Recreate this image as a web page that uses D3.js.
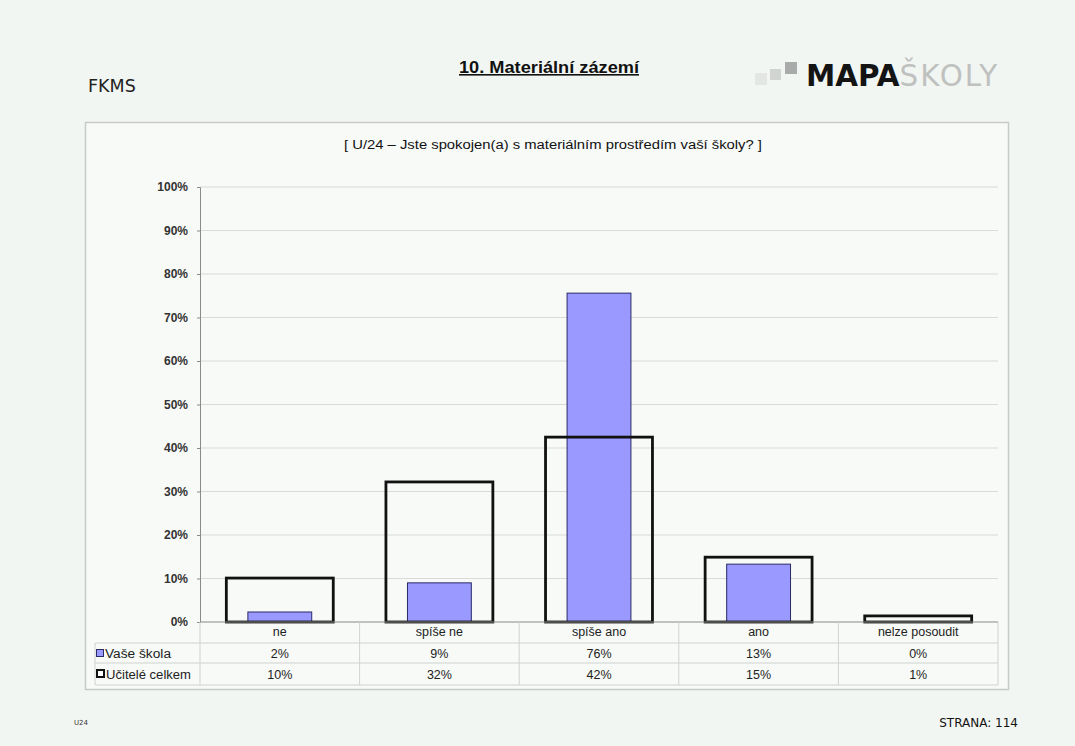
<!DOCTYPE html>
<html><head><meta charset="utf-8">
<script src="https://cdn.jsdelivr.net/npm/d3@7"></script>
<style>body{margin:0;background:#f2f6f2;}svg{display:block;}</style>
</head><body>
<svg id="c" width="1075" height="746"></svg>
<script>
const categories = ["ne", "spíše ne", "spíše ano", "ano", "nelze posoudit"];
const seriesNames = ["Vaše škola", "Učitelé celkem"];
const vaseSkola = [2.3, 9.0, 75.6, 13.3, 0.0];
const uciteleCelkem = [10.1, 32.2, 42.5, 14.9, 1.4];
const vaseSkolaLabels = ["2%", "9%", "76%", "13%", "0%"];
const uciteleLabels = ["10%", "32%", "42%", "15%", "1%"];
const yTicks = [0, 10, 20, 30, 40, 50, 60, 70, 80, 90, 100];

(function(){
const svg = d3.select("#c");
const F = "Liberation Sans, Arial, sans-serif";

svg.append("rect").attr("width",1075).attr("height",746).attr("fill","#f2f6f2");

// header
svg.append("text").attr("x",88).attr("y",92).text("FKMS")
  .attr("font-family","DejaVu Sans, Verdana, sans-serif").attr("font-size",17.5).attr("fill","#222");
svg.append("text").attr("x",549).attr("y",73).attr("text-anchor","middle")
  .attr("font-family",F).attr("font-size",16).attr("font-weight","bold").attr("fill","#111")
  .attr("text-decoration","underline").attr("textLength",180).attr("lengthAdjust","spacingAndGlyphs")
  .text("10. Materiální zázemí");

// logo
const logo = svg.append("g");
[[755,73,12,"#e4e6e4"],[770,69,11,"#d2d4d2"],[785,62,12,"#a9abab"]].forEach(d=>{
  logo.append("rect").attr("x",d[0]).attr("y",d[1]).attr("width",d[2]).attr("height",d[2]).attr("fill",d[3]);
});
const lt = logo.append("text").attr("x",806).attr("y",86).attr("font-family","DejaVu Sans, Verdana, sans-serif")
  .attr("font-size",31).attr("font-weight","bold").attr("textLength",193).attr("lengthAdjust","spacingAndGlyphs");
lt.append("tspan").attr("fill","#141414").text("MAPA");
lt.append("tspan").attr("fill","#bfc1bf").attr("font-weight","normal").attr("letter-spacing",2).text("ŠKOLY");

// chart box
svg.append("rect").attr("x",85.5).attr("y",122.5).attr("width",923).attr("height",567)
  .attr("fill","#f7faf7").attr("stroke","#c8cac8").attr("stroke-width",1.5);

svg.append("text").attr("x",553).attr("y",149).attr("text-anchor","middle")
  .attr("font-family",F).attr("font-size",12.5).attr("fill","#111")
  .attr("textLength",418).attr("lengthAdjust","spacingAndGlyphs")
  .text("[ U/24 – Jste spokojen(a) s materiálním prostředím vaší školy? ]");

const pl = 200, pr = 998, pt = 187, pb = 622;
const x = d3.scaleBand().domain(categories).range([pl,pr]);
const y = d3.scaleLinear().domain([0,100]).range([pb,pt]);

// grid
svg.append("g").selectAll("line").data(yTicks.filter(t=>t>0)).join("line")
  .attr("x1",pl).attr("x2",pr).attr("y1",d=>y(d)).attr("y2",d=>y(d))
  .attr("stroke","#d8dbd8").attr("stroke-width",1);

// y axis
const ya = svg.append("g").attr("transform",`translate(${pl},0)`)
  .call(d3.axisLeft(y).tickValues(yTicks).tickFormat(d=>d+"%").tickSize(3).tickPadding(9));
ya.select(".domain").attr("stroke","#8a8a8a");
ya.selectAll(".tick line").attr("stroke","#8a8a8a");
ya.selectAll("text").attr("font-family",F).attr("font-size",12).attr("fill","#333").attr("font-weight","bold");

// bars: Vaše škola
const bw1 = x.bandwidth()*0.4;
svg.append("g").selectAll("rect").data(categories).join("rect")
  .attr("x",(d)=>x(d)+x.bandwidth()/2-bw1/2)
  .attr("width",bw1)
  .attr("y",(d,i)=>y(vaseSkola[i]))
  .attr("height",(d,i)=>pb-y(vaseSkola[i]))
  .attr("fill","#9999ff").attr("stroke","#2a2a66").attr("stroke-width",1);

// bars: Učitelé celkem (outline)
const bw2 = x.bandwidth()*0.67;
svg.append("g").selectAll("rect").data(categories).join("rect")
  .attr("x",(d)=>x(d)+x.bandwidth()/2-bw2/2)
  .attr("width",bw2)
  .attr("y",(d,i)=>y(uciteleCelkem[i]))
  .attr("height",(d,i)=>pb-y(uciteleCelkem[i]))
  .attr("fill","none").attr("stroke","#111").attr("stroke-width",2.8);

// x axis line
svg.append("line").attr("x1",pl).attr("x2",pr).attr("y1",pb).attr("y2",pb)
  .attr("stroke","#8a8a8a").attr("stroke-width",1.2);

// data table
const tl = 95, rowY = [622, 643, 663, 685];
const tg = svg.append("g");
[1,2,3].forEach(k=>{
  tg.append("line").attr("x1",tl).attr("x2",pr).attr("y1",rowY[k]).attr("y2",rowY[k]).attr("stroke","#d0d3d0");
});
tg.append("line").attr("x1",tl).attr("x2",tl).attr("y1",rowY[1]).attr("y2",rowY[3]).attr("stroke","#d0d3d0");
const bounds = categories.map(c=>x(c)).concat([pr]);
tg.selectAll("line.v").data(bounds).join("line").attr("class","v")
  .attr("x1",d=>d).attr("x2",d=>d).attr("y1",rowY[0]).attr("y2",rowY[3]).attr("stroke","#d0d3d0");

const tfont = (s)=>s.attr("font-family",F).attr("font-size",12.5).attr("fill","#222").attr("text-anchor","middle");
tg.selectAll("text.cat").data(categories).join("text").attr("class","cat")
  .attr("x",d=>x(d)+x.bandwidth()/2).attr("y",636).text(d=>d).call(tfont);
tg.selectAll("text.v1").data(vaseSkolaLabels).join("text").attr("class","v1")
  .attr("x",(d,i)=>x(categories[i])+x.bandwidth()/2).attr("y",658).text(d=>d).call(tfont);
tg.selectAll("text.v2").data(uciteleLabels).join("text").attr("class","v2")
  .attr("x",(d,i)=>x(categories[i])+x.bandwidth()/2).attr("y",679).text(d=>d).call(tfont);

// legend keys
tg.append("rect").attr("x",96.5).attr("y",649.5).attr("width",7).attr("height",7)
  .attr("fill","#9999ff").attr("stroke","#2a2a66").attr("stroke-width",1);
tg.append("rect").attr("x",97).attr("y",670).attr("width",7).attr("height",7)
  .attr("fill","#fff").attr("stroke","#111").attr("stroke-width",2);
tg.append("text").attr("x",105).attr("y",658).text(seriesNames[0])
  .attr("font-family",F).attr("font-size",12.5).attr("fill","#222")
  .attr("textLength",66).attr("lengthAdjust","spacingAndGlyphs");
tg.append("text").attr("x",106).attr("y",679).text(seriesNames[1])
  .attr("font-family",F).attr("font-size",12.5).attr("fill","#222")
  .attr("textLength",85).attr("lengthAdjust","spacingAndGlyphs");

// footer
svg.append("text").attr("x",74).attr("y",725).text("U24")
  .attr("font-family","DejaVu Sans, sans-serif").attr("font-size",7).attr("fill","#333");
svg.append("text").attr("x",1018).attr("y",727).attr("text-anchor","end").text("STRANA: 114")
  .attr("font-family","DejaVu Sans, Verdana, sans-serif").attr("font-size",12).attr("fill","#111");
})();
</script>
</body></html>
